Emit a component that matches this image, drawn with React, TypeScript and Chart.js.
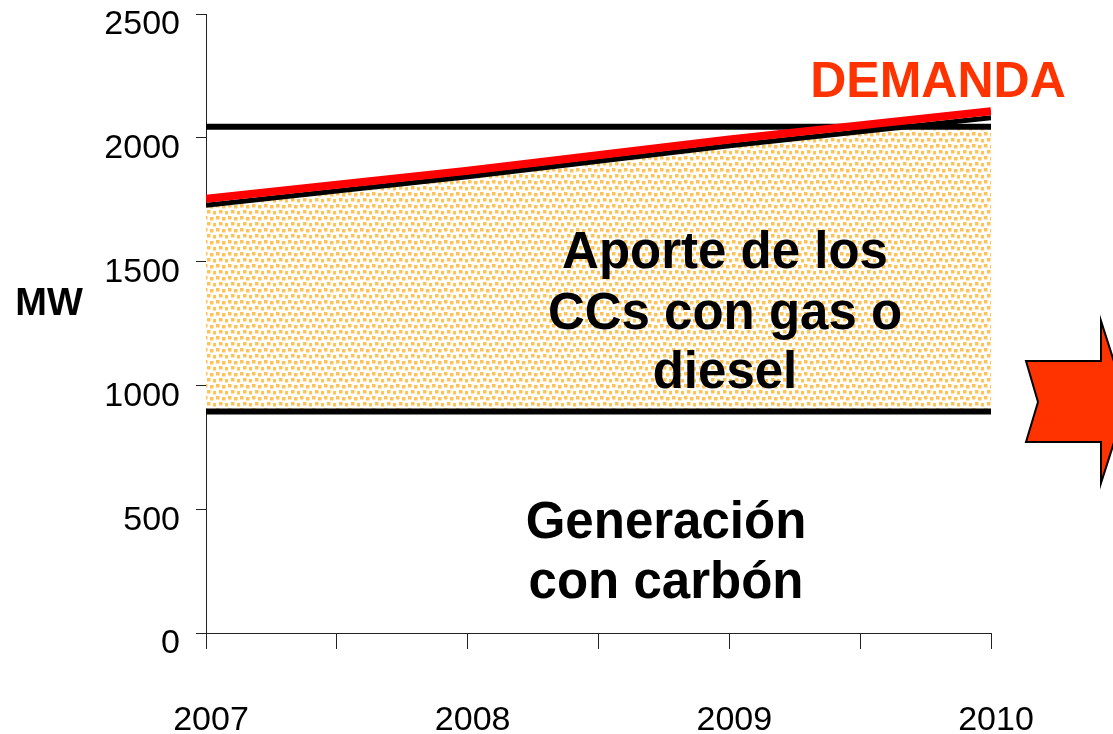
import React, { useEffect, useRef } from "react";
import { Chart, registerables } from "chart.js";

Chart.register(...registerables);

// ---- Data ----
const years = [2007, 2008, 2009, 2010];
const demand = [1754, 1867, 1993, 2107]; // red DEMANDA line
const demandBase = [1728, 1843, 1968, 2081]; // black line under demand
const capacity = [2045, 2045, 2045, 2045]; // upper black limit
const coal = [895, 895, 895, 895]; // coal generation level
const yMin = 0;
const yMax = 2500;
const yStep = 500;

const FONT = '"Liberation Sans", Arial, Helvetica, sans-serif';

const pts = (vals: number[]) => vals.map((v, i) => ({ x: years[i], y: v }));

function makePattern(ctx: CanvasRenderingContext2D): CanvasPattern | string {
  const c = document.createElement("canvas");
  c.width = 12;
  c.height = 12;
  const p = c.getContext("2d");
  if (!p) return "#FFE0A0";
  p.fillStyle = "#ffffff";
  p.fillRect(0, 0, 12, 12);
  p.fillStyle = "#FFC256";
  const sq: [number, number][] = [
    [0, 0],
    [6, 1],
    [3, 6],
    [9, 7],
  ];
  sq.forEach(([x, y]) => p.fillRect(x, y, 3.5, 3.5));
  return ctx.createPattern(c, "repeat") || "#FFE0A0";
}

export default function App() {
  const ref = useRef<HTMLCanvasElement | null>(null);

  useEffect(() => {
    const canvas = ref.current;
    if (!canvas) return;
    const ctx = canvas.getContext("2d");
    if (!ctx) return;
    const pattern = makePattern(ctx);

    const clipPlugin = {
      id: "clipFill",
      beforeDatasetsDraw(chart: any) {
        const c = chart.ctx;
        const area = chart.chartArea;
        const yTop = chart.scales.y.getPixelForValue(capacity[0]);
        c.save();
        c.beginPath();
        c.rect(area.left, yTop, area.right - area.left, area.bottom - yTop);
        c.clip();
      },
      afterDatasetDraw(chart: any, args: any) {
        if (args.index === 4) chart.ctx.restore();
      },
    };

    const annotations = {
      id: "annotations",
      afterDraw(chart: any) {
        const c = chart.ctx;
        c.save();
        c.textAlign = "center";
        c.textBaseline = "alphabetic";
        c.fillStyle = "#000";
        c.font = `bold 51px ${FONT}`;
        c.fillText("Aporte de los", 725, 268);
        c.fillText("CCs con gas o", 725, 329);
        c.fillText("diesel", 725, 388);
        c.fillText("Generación", 666, 538);
        c.fillText("con carbón", 666, 598);
        c.font = `bold 38px ${FONT}`;
        c.fillText("MW", 49, 315);
        c.fillStyle = "#FF3300";
        c.font = `bold 50px ${FONT}`;
        c.fillText("DEMANDA", 938, 97);
        // arrow shape
        c.beginPath();
        c.moveTo(1026, 361);
        c.lineTo(1101, 361);
        c.lineTo(1101, 321);
        c.lineTo(1127, 402);
        c.lineTo(1101, 483);
        c.lineTo(1101, 442);
        c.lineTo(1026, 442);
        c.lineTo(1038, 402);
        c.closePath();
        c.fillStyle = "#FF3300";
        c.fill();
        c.lineWidth = 2;
        c.strokeStyle = "#000";
        c.lineJoin = "miter";
        c.stroke();
        c.restore();
      },
    };

    const line = (data: number[], color: string, width: number) => ({
      data: pts(data),
      borderColor: color,
      borderWidth: width,
      pointRadius: 0,
      fill: false,
      tension: 0,
      borderCapStyle: "butt",
    });

    const chart = new Chart(canvas, {
      type: "line",
      data: {
        datasets: [
          line(demand, "#FF0000", 8),
          line(demandBase, "#000000", 5),
          line(capacity, "#000000", 6),
          line(coal, "#000000", 6),
          {
            data: pts(demandBase),
            borderWidth: 0,
            borderColor: "rgba(0,0,0,0)",
            pointRadius: 0,
            backgroundColor: pattern,
            fill: { target: { value: coal[0] } },
            tension: 0,
          },
        ] as any,
      },
      options: {
        responsive: false,
        animation: false,
        devicePixelRatio: 1,
        layout: { padding: { top: 14, right: 122, bottom: 0, left: 0 } },
        plugins: {
          legend: { display: false },
          tooltip: { enabled: false },
          filler: { drawTime: "beforeDatasetDraw" },
        },
        scales: {
          x: {
            type: "linear",
            min: years[0],
            max: years[years.length - 1],
            grid: {
              drawOnChartArea: false,
              drawTicks: true,
              tickLength: 16,
              color: "#222",
              lineWidth: 1,
            },
            border: { color: "#222", width: 1 },
            ticks: {
              stepSize: 0.5,
              autoSkip: false,
              maxRotation: 0,
              padding: 51,
              labelOffset: 5,
              color: "#000",
              font: { family: FONT, size: 34 },
              callback: (v: any) => (Number.isInteger(v) ? String(v) : ""),
            },
            afterFit: (s: any) => {
              s.height = 101;
              s.paddingLeft = 0;
              s.paddingRight = 0;
            },
          },
          y: {
            min: yMin,
            max: yMax,
            grid: {
              drawOnChartArea: false,
              drawTicks: true,
              tickLength: 10,
              color: "#222",
              lineWidth: 1,
            },
            border: { color: "#222", width: 1 },
            ticks: {
              stepSize: yStep,
              padding: 16,
              labelOffset: 11,
              color: "#000",
              font: { family: FONT, size: 34 },
              callback: (v: any) => String(v),
            },
            afterFit: (s: any) => {
              s.width = 206;
              s.paddingTop = 0;
              s.paddingBottom = 0;
            },
          },
        },
      } as any,
      plugins: [clipPlugin, annotations] as any,
    });

    return () => chart.destroy();
  }, []);

  return (
    <canvas
      ref={ref}
      width={1113}
      height={734}
      style={{ position: "fixed", left: 0, top: 0, display: "block", background: "#fff" }}
    />
  );
}
